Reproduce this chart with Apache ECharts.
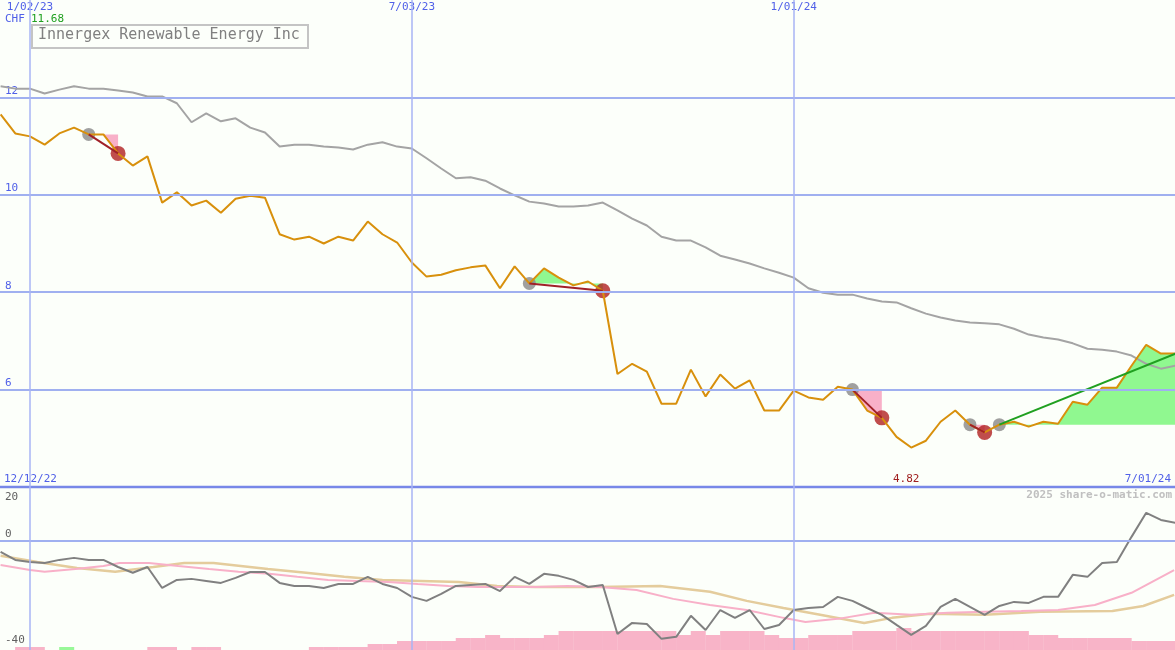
<!DOCTYPE html>
<html><head><meta charset="utf-8">
<script src="https://cdn.jsdelivr.net/npm/echarts@6/dist/echarts.min.js"></script>
<style>html,body{margin:0;padding:0;background:#fcfffa}#c{width:1175px;height:650px}</style>
</head><body><div id="c"></div>
<script>
// week index: 0 = 1/02/23
const startWeek = -2;
const price = [11.65,11.26,11.20,11.03,11.26,11.38,11.24,11.24,10.85,10.60,10.79,9.84,10.05,9.78,9.88,9.63,9.92,9.98,9.94,9.19,9.08,9.14,9.00,9.14,9.06,9.45,9.19,9.02,8.61,8.32,8.36,8.45,8.51,8.55,8.08,8.53,8.18,8.49,8.30,8.14,8.22,8.03,
6.32,6.53,6.37,5.71,5.71,6.41,5.86,6.31,6.02,6.19,5.57,5.57,5.98,5.84,5.79,6.06,6.00,5.57,5.42,5.03,4.81,4.95,5.34,5.57,5.28,5.12,5.28,5.34,5.24,5.34,5.30,5.75,5.69,6.04,6.04,6.49,6.92,6.74,6.74];
const movingAvg = [12.23,12.18,12.18,12.08,12.16,12.23,12.18,12.18,12.14,12.10,12.02,12.02,11.88,11.49,11.67,11.51,11.57,11.38,11.28,10.99,11.03,11.03,10.99,10.97,10.93,11.03,11.08,10.99,10.95,10.75,10.54,10.34,10.36,10.29,10.13,9.99,9.86,9.82,9.76,9.76,9.78,9.84,
9.68,9.51,9.37,9.14,9.06,9.06,8.92,8.75,8.67,8.59,8.49,8.40,8.30,8.08,7.99,7.95,7.95,7.87,7.81,7.79,7.67,7.56,7.48,7.42,7.38,7.36,7.34,7.25,7.13,7.07,7.03,6.95,6.84,6.82,6.78,6.70,6.53,6.43,6.49];
const oscillator = [-4.3,-7.5,-8.3,-8.7,-7.5,-6.7,-7.5,-7.5,-10.3,-12.6,-10.3,-18.6,-15.4,-15.0,-15.8,-16.6,-14.6,-12.3,-12.3,-16.6,-17.8,-17.8,-18.6,-17.0,-17.0,-14.2,-17.0,-18.6,-22.1,-23.7,-20.9,-17.8,-17.4,-17.0,-19.8,-14.2,-17.0,-13.0,-13.8,-15.4,-18.2,-17.4,
-36.8,-32.4,-32.8,-38.7,-37.9,-29.6,-35.2,-27.3,-30.4,-27.3,-34.8,-33.2,-27.3,-26.5,-26.1,-22.1,-23.7,-26.5,-29.2,-33.2,-37.1,-33.6,-26.1,-22.9,-26.1,-29.2,-25.7,-24.1,-24.5,-22.1,-22.1,-13.4,-14.2,-8.7,-8.3,1.6,11.1,8.3,7.1];
const pinkAvg = [[-2.0,-9.5],[0,-11.5],[1.0,-12.2],[3.1,-11.1],[5.0,-9.9],[6.1,-8.7],[8.1,-8.7],[10.1,-9.9],[12.2,-11.1],[14.2,-12.2],[16.3,-13.0],[18.2,-14.2],[20.3,-15.4],[22.3,-15.8],[24.4,-16.2],[26.4,-17.0],[28.5,-17.8],[30.5,-18.2],[32.5,-18.2],[34.5,-18.2],[36.6,-17.8],[38.8,-18.2],[41.3,-19.4],[43.8,-22.9],[46.3,-25.3],[48.8,-27.3],[51.3,-30.4],[52.8,-32.0],[55.0,-30.8],[57.5,-28.4],[60.0,-29.2],[62.5,-28.4],[65.0,-28.0],[67.5,-27.7],[70.0,-27.3],[72.5,-25.3],[75.0,-20.5],[77.9,-11.5]];
const tanAvg = [[-2.0,-5.9],[0.5,-8.3],[3.2,-10.7],[5.8,-12.2],[8.4,-10.3],[10.5,-8.7],[12.5,-8.7],[16.2,-11.1],[18.8,-12.6],[21.4,-14.2],[24.0,-15.4],[26.6,-15.8],[29.2,-16.2],[31.8,-17.8],[34.4,-18.2],[38.7,-18.2],[42.9,-17.8],[46.3,-20.1],[48.8,-23.7],[51.3,-26.5],[53.8,-29.2],[56.8,-32.4],[58.7,-30.4],[61.3,-28.8],[65.0,-29.2],[68.8,-28.0],[73.7,-27.7],[75.8,-25.7],[77.9,-21.3]];
// bottom bars: [week, height units, up(1)/down(0)]
const barWeeks = [[-1,3,0],[0,3,0],[2,3,1],[8,3,0],[9,3,0],[11,3,0],[12,3,0],[19,3,0],[20,3,0],[21,3,0],[22,3,0],[23,6,0],[24,6,0],[25,9,0],[26,9,0],[27,9,0],[28,9,0],[29,12,0],[30,12,0],[31,15,0],[32,12,0],[33,12,0],[34,12,0],[35,15,0],[36,19,0],[37,19,0],[38,19,0],[39,19,0],[40,19,0],[41,19,0],[42,19,0],[43,19,0],[44,15,0],[45,19,0],[46,15,0],[47,19,0],[48,19,0],[49,19,0],[50,15,0],[51,12,0],[52,12,0],[53,15,0],[54,15,0],[55,15,0],[56,19,0],[57,19,0],[58,19,0],[59,22,0],[60,19,0],[61,19,0],[62,19,0],[63,19,0],[64,19,0],[65,19,0],[66,19,0],[67,19,0],[68,15,0],[69,15,0],[70,12,0],[71,12,0],[72,12,0],[73,12,0],[74,12,0],[75,9,0],[76,9,0],[77,9,0],[78,9,0]];
// signals: [startWeek, endWeek, open-ended]
const signals = [[4,6,0],[34,39,0],[56,58,0],[64,65,0],[66,78,1]];
const dateTicks = [[0,'1/02/23'],[26,'7/03/23'],[52,'1/01/24']];
const priceTicks = [6,8,10,12];
const oscTicks = [[20,1],[0,-12],[-40,-8]];

const F = 'DejaVu Sans Mono, monospace';
const P = (w)=>price[w-startWeek];
const priceData = price.map((v,i)=>[i+startWeek,v]);
const maData = movingAvg.map((v,i)=>[i+startWeek,v]);
const oscData = oscillator.map((v,i)=>[i+startWeek,v]);

const fills=[], segs=[], grayDots=[], redDots=[];
signals.forEach(([a,b,open])=>{
  const base=P(a), poly=[[a,base]];
  let above=false;
  for(let w=a;w<=b;w++){ poly.push([w,P(w)]); if(w>a && P(w)>base) above=true; }
  poly.push([b,base]);
  fills.push({poly, color: above?'#90f890':'#f8b0c8'});
  segs.push({p:[[a,base],[b,P(b)]], color: open?'#20a020':'#a02028'});
  grayDots.push([a,base]);
  if(!open) redDots.push([b,P(b)]);
});

const chart = echarts.init(document.getElementById('c'));
const xr = {min:-2.04,max:77.96};
chart.setOption({
  backgroundColor:'#fcfffa', animation:false,
  grid:[{left:0,right:0,top:0,height:487},{left:0,right:0,top:487,height:163}],
  xAxis:[{type:'value',gridIndex:0,...xr,show:false,splitLine:{show:false}},
         {type:'value',gridIndex:1,...xr,show:false,splitLine:{show:false}}],
  yAxis:[{type:'value',gridIndex:0,min:4,max:14,show:false},
         {type:'value',gridIndex:1,min:-43.1,max:21.3,show:false},
         {type:'value',gridIndex:1,min:0,max:163,show:false}],
  series:[
    {type:'line',xAxisIndex:0,yAxisIndex:0,data:[],silent:true,
     markLine:{symbol:'none',silent:true,label:{show:false},data:[
       ...priceTicks.map(v=>({yAxis:v,lineStyle:{color:'#a0b0f0',width:2,type:'solid'}})),
       ...dateTicks.map(d=>({xAxis:d[0],lineStyle:{color:'#a8b4f4',width:1.5,type:'solid'}}))]}},
    {type:'line',xAxisIndex:1,yAxisIndex:1,data:[],silent:true,
     markLine:{symbol:'none',silent:true,label:{show:false},data:[
       {yAxis:0,lineStyle:{color:'#a0b0f0',width:2,type:'solid'}},
       ...dateTicks.map(d=>({xAxis:d[0],lineStyle:{color:'#a8b4f4',width:1.5,type:'solid'}}))]}},
    {type:'bar',xAxisIndex:1,yAxisIndex:2,barWidth:15,barGap:'-100%',
     data:barWeeks.map(b=>({value:[b[0]+0.5,b[1]],itemStyle:{color:b[2]?'#98f898':'#f8b4c8'}}))},
    {type:'custom',xAxisIndex:0,yAxisIndex:0,data:fills.map((f,i)=>[i]),
     renderItem:(p,api)=>{const f=fills[api.value(0)];
       return {type:'polygon',shape:{points:f.poly.map(q=>api.coord(q))},style:{fill:f.color}};}},
    {type:'line',xAxisIndex:1,yAxisIndex:1,data:tanAvg,symbol:'none',lineStyle:{color:'#e4cc9c',width:2.5}},
    {type:'line',xAxisIndex:1,yAxisIndex:1,data:pinkAvg,symbol:'none',lineStyle:{color:'#f8b0c8',width:2}},
    {type:'line',xAxisIndex:1,yAxisIndex:1,data:oscData,symbol:'none',lineStyle:{color:'#808080',width:2}},
    {type:'line',xAxisIndex:0,yAxisIndex:0,data:maData,symbol:'none',lineStyle:{color:'#a4a4a4',width:2}},
    {type:'line',xAxisIndex:0,yAxisIndex:0,data:priceData,symbol:'none',lineStyle:{color:'#d8900c',width:2}},
    ...segs.map(s=>({type:'line',xAxisIndex:0,yAxisIndex:0,data:s.p,symbol:'none',lineStyle:{color:s.color,width:2}})),
    {type:'scatter',xAxisIndex:0,yAxisIndex:0,data:grayDots,symbolSize:13,itemStyle:{color:'#888888'}},
    {type:'scatter',xAxisIndex:0,yAxisIndex:0,data:redDots,symbolSize:15,itemStyle:{color:'#b02020'}}
  ]
});
const px=(x,y,g)=>chart.convertToPixel({gridIndex:g},[x,y]);
const T=(x,y,text,color)=>({type:'text',x,y,style:{text,fill:color,font:'11px '+F}});
const g=[];
dateTicks.forEach(d=>{const p=px(d[0],0,0);g.push({type:'text',x:p[0],y:2,style:{text:d[1],fill:'#5060e8',font:'11px '+F,align:'center'}});});
priceTicks.forEach(v=>{const p=px(0,v,0);g.push(T(5,p[1]-12,String(v),'#5060e8'));});
oscTicks.forEach(([v,o])=>{const p=px(0,v,1);g.push(T(5,p[1]+o,String(v),'#606060'));});
g.push({type:'line',shape:{x1:0,y1:487,x2:1175,y2:487},style:{stroke:'#7888e8',lineWidth:2.5}});
g.push(T(5,14,'CHF','#5060e8'));
g.push(T(31,14,'11.68','#20a020'));
g.push({type:'rect',shape:{x:32,y:25,width:276,height:23},style:{fill:'#fcfffa',stroke:'#c4c4c4',lineWidth:2}});
g.push({type:'text',x:38,y:28,style:{text:'Innergex Renewable Energy Inc',fill:'#808080',font:'15px '+F}});
g.push(T(4,474,'12/12/22','#5060e8'));
const lowV=Math.min(...price); const lp=px(price.indexOf(lowV)+startWeek,lowV,0);
g.push({type:'text',x:lp[0]-5,y:474,style:{text:'4.82',fill:'#a02020',font:'11px '+F,align:'center'}});
g.push({type:'text',x:1171,y:474,style:{text:'7/01/24',fill:'#5060e8',font:'11px '+F,align:'right'}});
g.push({type:'text',x:1172,y:490,style:{text:'2025 share-o-matic.com',fill:'#c0c0c0',font:'bold 11px '+F,align:'right'}});
chart.setOption({graphic:g});
</script></body></html>
